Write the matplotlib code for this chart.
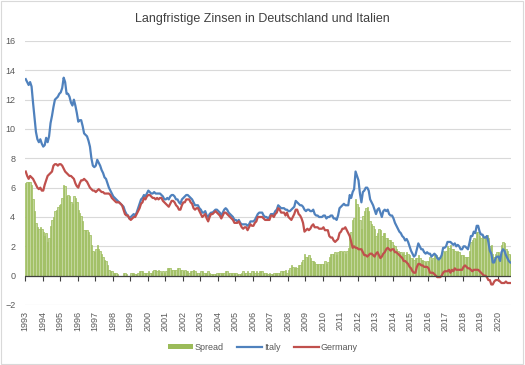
import matplotlib

matplotlib.use("Agg")
import matplotlib.pyplot as plt
import numpy as np
from matplotlib.patches import Patch, Rectangle
from matplotlib.lines import Line2D

plt.rcParams["font.family"] = ["Liberation Sans", "DejaVu Sans"]

# monthly long-term rates, Jan 1993 .. Sep 2020
italy_by_year = {
    1993: [13.4, 13.2, 13.0, 13.2, 12.9, 11.8, 10.8, 9.8, 9.3, 9.1, 9.3, 9.0],
    1994: [8.8, 8.9, 9.4, 9.1, 9.5, 10.4, 10.9, 11.5, 12.0, 12.1, 12.2, 12.4],
    1995: [12.5, 12.8, 13.5, 13.2, 12.4, 12.4, 12.2, 11.8, 11.6, 12.0, 11.6, 11.1],
    1996: [10.5, 10.6, 10.6, 10.2, 9.7, 9.6, 9.5, 9.2, 8.8, 8.0, 7.5, 7.4],
    1997: [7.5, 7.9, 7.7, 7.5, 7.2, 7.0, 6.7, 6.6, 6.3, 6.0, 5.8, 5.6],
    1998: [5.4, 5.3, 5.2, 5.1, 5.0, 4.9, 4.8, 4.7, 4.4, 4.2, 4.1, 3.9],
    1999: [4.0, 4.1, 4.2, 4.1, 4.3, 4.6, 4.9, 5.2, 5.3, 5.5, 5.4, 5.6],
    2000: [5.8, 5.7, 5.6, 5.6, 5.7, 5.6, 5.6, 5.6, 5.6, 5.5, 5.4, 5.2],
    2001: [5.2, 5.3, 5.2, 5.4, 5.5, 5.5, 5.4, 5.2, 5.2, 5.0, 4.9, 5.2],
    2002: [5.3, 5.4, 5.5, 5.5, 5.4, 5.3, 5.2, 5.0, 4.8, 4.8, 4.8, 4.6],
    2003: [4.5, 4.3, 4.3, 4.4, 4.1, 4.0, 4.2, 4.3, 4.3, 4.4, 4.5, 4.5],
    2004: [4.4, 4.3, 4.1, 4.3, 4.5, 4.6, 4.5, 4.3, 4.2, 4.1, 4.0, 3.8],
    2005: [3.8, 3.7, 3.8, 3.6, 3.5, 3.5, 3.5, 3.5, 3.4, 3.5, 3.7, 3.7],
    2006: [3.7, 3.8, 4.0, 4.2, 4.3, 4.3, 4.3, 4.1, 4.0, 4.0, 3.9, 4.0],
    2007: [4.2, 4.2, 4.2, 4.4, 4.5, 4.8, 4.7, 4.6, 4.6, 4.6, 4.5, 4.5],
    2008: [4.4, 4.4, 4.5, 4.6, 4.7, 5.1, 5.0, 4.9, 4.8, 4.8, 4.7, 4.5],
    2009: [4.4, 4.5, 4.5, 4.4, 4.4, 4.5, 4.2, 4.1, 4.1, 4.0, 4.0, 4.0],
    2010: [4.1, 4.1, 3.9, 4.0, 4.0, 4.1, 4.1, 3.9, 3.9, 3.8, 4.1, 4.6],
    2011: [4.7, 4.8, 4.9, 4.8, 4.8, 4.8, 5.5, 5.3, 5.7, 5.9, 7.1, 6.8],
    2012: [6.5, 5.6, 5.0, 5.7, 5.8, 6.0, 6.0, 5.8, 5.2, 5.0, 4.8, 4.5],
    2013: [4.2, 4.5, 4.6, 4.3, 4.0, 4.4, 4.5, 4.4, 4.5, 4.2, 4.1, 4.1],
    2014: [3.9, 3.6, 3.4, 3.2, 3.0, 2.9, 2.7, 2.6, 2.4, 2.5, 2.3, 2.0],
    2015: [1.7, 1.5, 1.3, 1.4, 1.8, 2.2, 2.0, 1.8, 1.8, 1.6, 1.5, 1.6],
    2016: [1.5, 1.5, 1.3, 1.4, 1.5, 1.4, 1.2, 1.1, 1.2, 1.4, 1.9, 1.9],
    2017: [2.0, 2.3, 2.3, 2.3, 2.2, 2.1, 2.2, 2.0, 2.1, 2.0, 1.8, 1.8],
    2018: [2.0, 2.0, 1.9, 1.8, 2.2, 2.7, 2.7, 3.0, 2.9, 3.4, 3.4, 3.0],
    2019: [2.8, 2.8, 2.6, 2.6, 2.7, 2.3, 1.7, 1.5, 0.9, 0.9, 1.2, 1.3],
    2020: [1.3, 1.0, 1.6, 1.8, 1.7, 1.4, 1.2, 1.0, 0.9],
}

germany_by_year = {
    1993: [7.1, 6.8, 6.6, 6.8, 6.7, 6.6, 6.4, 6.2, 6.0, 5.9, 6.0, 5.8],
    1994: [5.8, 6.2, 6.5, 6.8, 6.9, 7.0, 7.1, 7.5, 7.6, 7.6, 7.5, 7.6],
    1995: [7.6, 7.5, 7.3, 7.1, 7.0, 6.9, 6.8, 6.8, 6.7, 6.6, 6.3, 6.1],
    1996: [6.0, 6.3, 6.5, 6.5, 6.6, 6.5, 6.4, 6.2, 6.0, 5.9, 5.8, 5.8],
    1997: [5.7, 5.8, 5.9, 5.8, 5.7, 5.7, 5.6, 5.6, 5.6, 5.6, 5.5, 5.3],
    1998: [5.2, 5.1, 5.0, 5.0, 5.0, 4.9, 4.8, 4.5, 4.2, 4.1, 4.1, 3.9],
    1999: [3.8, 3.9, 4.0, 4.0, 4.2, 4.4, 4.6, 4.9, 5.0, 5.3, 5.2, 5.4],
    2000: [5.5, 5.5, 5.4, 5.3, 5.3, 5.2, 5.3, 5.2, 5.3, 5.3, 5.1, 5.0],
    2001: [4.9, 4.8, 4.7, 4.9, 5.1, 5.1, 5.0, 4.8, 4.7, 4.5, 4.5, 4.8],
    2002: [5.0, 5.0, 5.2, 5.2, 5.2, 5.0, 4.9, 4.6, 4.5, 4.6, 4.6, 4.4],
    2003: [4.2, 4.0, 4.1, 4.2, 3.9, 3.7, 4.0, 4.2, 4.2, 4.3, 4.4, 4.3],
    2004: [4.2, 4.1, 3.9, 4.1, 4.3, 4.3, 4.2, 4.1, 4.0, 3.9, 3.8, 3.6],
    2005: [3.6, 3.6, 3.7, 3.5, 3.3, 3.2, 3.3, 3.3, 3.1, 3.3, 3.5, 3.4],
    2006: [3.4, 3.6, 3.7, 4.0, 4.0, 4.0, 4.0, 3.9, 3.8, 3.8, 3.8, 3.8],
    2007: [4.1, 4.1, 4.0, 4.2, 4.3, 4.6, 4.5, 4.3, 4.3, 4.3, 4.1, 4.3],
    2008: [4.0, 3.9, 3.8, 4.0, 4.2, 4.5, 4.5, 4.2, 4.1, 3.9, 3.6, 3.0],
    2009: [3.1, 3.2, 3.1, 3.2, 3.4, 3.5, 3.3, 3.3, 3.3, 3.2, 3.2, 3.2],
    2010: [3.3, 3.1, 3.1, 3.1, 2.7, 2.6, 2.6, 2.4, 2.3, 2.4, 2.5, 2.9],
    2011: [3.0, 3.2, 3.2, 3.3, 3.1, 2.9, 2.7, 2.3, 1.9, 2.0, 1.9, 1.9],
    2012: [1.8, 1.8, 1.8, 1.6, 1.4, 1.4, 1.3, 1.4, 1.5, 1.5, 1.4, 1.3],
    2013: [1.5, 1.6, 1.4, 1.2, 1.3, 1.5, 1.6, 1.8, 1.9, 1.8, 1.7, 1.8],
    2014: [1.8, 1.6, 1.6, 1.5, 1.4, 1.3, 1.2, 1.0, 1.0, 0.9, 0.8, 0.6],
    2015: [0.5, 0.3, 0.2, 0.2, 0.6, 0.8, 0.8, 0.7, 0.7, 0.6, 0.6, 0.6],
    2016: [0.5, 0.2, 0.2, 0.2, 0.1, 0.0, -0.1, -0.1, -0.1, 0.0, 0.2, 0.3],
    2017: [0.3, 0.3, 0.4, 0.2, 0.4, 0.3, 0.5, 0.4, 0.4, 0.4, 0.4, 0.4],
    2018: [0.6, 0.7, 0.6, 0.5, 0.5, 0.4, 0.3, 0.4, 0.4, 0.4, 0.4, 0.3],
    2019: [0.2, 0.1, 0.0, 0.0, -0.1, -0.3, -0.3, -0.6, -0.6, -0.4, -0.3, -0.3],
    2020: [-0.3, -0.4, -0.5, -0.5, -0.5, -0.4, -0.5, -0.5, -0.5],
}

years = list(range(1993, 2021))
italy = np.array([v for y in years for v in italy_by_year[y]])
germany = np.array([v for y in years for v in germany_by_year[y]])
spread = italy - germany
dates = np.array([y + m / 12 for y in years for m in range(len(italy_by_year[y]))])

grey_text = "#595959"
grid_col = "#d9d9d9"
green = "#9bbb59"

fig = plt.figure(figsize=(5.25, 3.65), dpi=100)
ax = fig.add_axes([25 / 525, 1 - 305 / 365, 486 / 525, 264 / 365])

ax.bar(dates + 1 / 24, spread, width=1 / 12, color="#c2d69b",
       edgecolor=green, linewidth=0.5, zorder=2)
ax.plot(dates + 1 / 24, italy, color="#4f81bd", lw=1.6, zorder=3)
ax.plot(dates + 1 / 24, germany, color="#c0504d", lw=1.6, zorder=4)

ax.set_ylim(-2, 16)
ax.set_xlim(1993, 1993 + len(italy) / 12)
ax.set_yticks(np.arange(-2, 17, 2))
ax.yaxis.grid(True, color=grid_col, lw=0.8)
ax.set_axisbelow(True)
for s in ["top", "right", "left", "bottom"]:
    ax.spines[s].set_visible(False)
ax.tick_params(axis="y", length=0, labelsize=6.5, colors=grey_text, pad=7)

ax.set_xticks(years)
ax.set_xticklabels([str(y) for y in years], rotation=90, fontsize=6.5,
                   color=grey_text)
ax.tick_params(axis="x", length=0, pad=4)

# category axis line at zero with year ticks
ax.axhline(0, color="#404040", lw=0.9, zorder=5)
sec = ax.secondary_xaxis(2 / 18)
sec.set_xticks(years)
sec.set_xticklabels([])
sec.tick_params(axis="x", direction="out", length=3.5, width=0.8, color="#404040")
sec.spines["bottom"].set_visible(False)

fig.suptitle("Langfristige Zinsen in Deutschland und Italien", y=0.965,
             fontsize=9, color="#404040")

handles = [
    Patch(facecolor=green, edgecolor="none"),
    Line2D([0], [0], color="#4f81bd", lw=1.6),
    Line2D([0], [0], color="#c0504d", lw=1.6),
]
fig.legend(handles, ["Spread", "Italy", "Germany"], loc="center",
           bbox_to_anchor=(0.5, 18 / 365), ncol=3, frameon=False,
           fontsize=6.5, labelcolor=grey_text, handlelength=2.8,
           handleheight=0.5, columnspacing=1.5, handletextpad=0.15)

fig.add_artist(Rectangle((0.002, 0.003), 0.995, 0.993, transform=fig.transFigure,
                         fill=False, edgecolor=grid_col, lw=0.8))

fig.savefig("out.png", dpi=100)
plt.close(fig)
